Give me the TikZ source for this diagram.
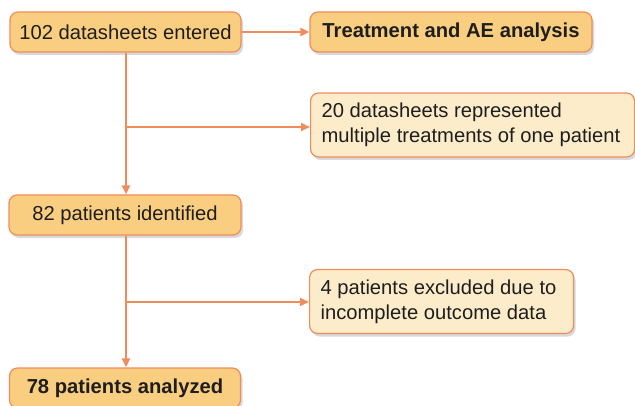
\documentclass[tikz,border=0pt]{standalone}
\usepackage{fontspec}
\setmainfont{Liberation Sans}
\usetikzlibrary{arrows.meta,shadows,calc}
\definecolor{boxfill}{RGB}{250,206,128}
\definecolor{lightfill}{RGB}{253,236,202}
\definecolor{edge}{RGB}{240,140,92}
\definecolor{txt}{RGB}{30,30,30}
\newcommand{\ind}{\hspace*{11pt}}
\tikzset{
  base/.style={draw=edge, line width=1.2pt, rounded corners=8pt, text=txt,
    font=\fontsize{20.2}{25}\selectfont, inner sep=0pt,
    drop shadow={opacity=0.25, shadow xshift=2pt, shadow yshift=-3pt, fill=black!60}},
  mainbox/.style={base, fill=boxfill},
  sidebox/.style={base, fill=lightfill, align=flush left, anchor=west},
  conn/.style={draw=edge, line width=2pt, -{Triangle[length=9pt,width=8pt]}}
}
\begin{document}
\begin{tikzpicture}[x=1pt,y=1pt]
\useasboundingbox (0,0) rectangle (635,-406);
\node[mainbox, minimum width=231pt, minimum height=40pt] (a) at (125.5,-32) {102 datasheets entered};
\node[mainbox, minimum width=282pt, minimum height=40pt, font=\fontsize{20.2}{25}\selectfont\bfseries] (t) at (451,-32) {Treatment and AE analysis};
\node[sidebox, text width=324pt, minimum height=64pt] (m) at (310,-125) {\ind 20 datasheets represented\\\ind multiple treatments of one patient};
\node[mainbox, minimum width=232pt, minimum height=40pt] (p) at (125,-215) {82 patients identified};
\node[sidebox, text width=264pt, minimum height=64pt] (e) at (309,-301.5) {\ind 4 patients excluded due to\\\ind incomplete outcome data};
\node[mainbox, minimum width=231pt, minimum height=40pt, font=\fontsize{20.2}{25}\selectfont\bfseries] (r) at (125,-388) {78 patients analyzed};
\coordinate (b1) at (126,-127);
\coordinate (b2) at (126,-302);
\draw[conn] (a.east) -- (t.west);
\draw[conn] (a.south -| b1) -- (p.north -| b1);
\draw[conn] (b1) -- (b1 -| m.west);
\draw[conn] (p.south -| b2) -- (r.north -| b2);
\draw[conn] (b2) -- (b2 -| e.west);
\end{tikzpicture}
\end{document}
